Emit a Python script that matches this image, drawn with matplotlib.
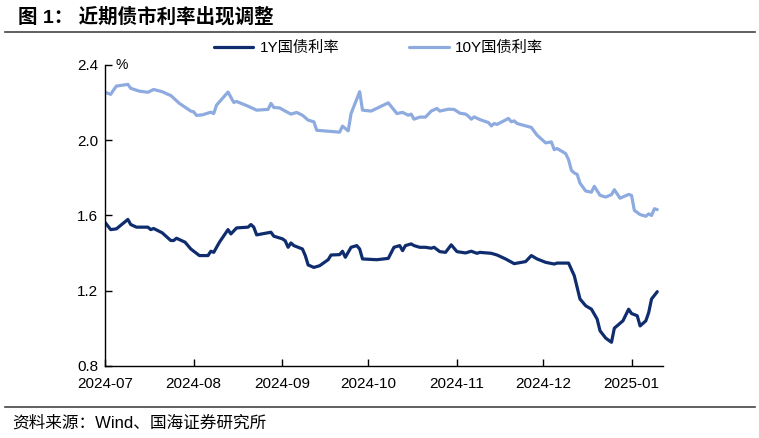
import matplotlib
matplotlib.use("Agg")
import matplotlib.pyplot as plt
import matplotlib.dates as mdates
import pandas as pd

plt.rcParams['font.family'] = ['Liberation Sans', 'Noto Sans CJK SC', 'DejaVu Sans']

# 10Y government bond yield (%)
dates_10y = ['2024-07-01', '2024-07-03', '2024-07-04', '2024-07-05', '2024-07-09', '2024-07-10',
             '2024-07-13', '2024-07-16', '2024-07-18', '2024-07-21', '2024-07-23', '2024-07-24',
             '2024-07-27', '2024-07-31', '2024-08-01', '2024-08-02', '2024-08-04', '2024-08-07',
             '2024-08-08', '2024-08-09', '2024-08-13', '2024-08-15', '2024-08-16', '2024-08-20',
             '2024-08-23', '2024-08-27', '2024-08-28', '2024-08-29', '2024-08-31', '2024-09-02',
             '2024-09-04', '2024-09-06', '2024-09-08', '2024-09-10', '2024-09-12', '2024-09-13',
             '2024-09-17', '2024-09-21', '2024-09-22', '2024-09-24', '2024-09-25', '2024-09-28',
             '2024-09-29', '2024-10-02', '2024-10-08', '2024-10-11', '2024-10-13', '2024-10-15',
             '2024-10-16', '2024-10-17', '2024-10-19', '2024-10-21', '2024-10-23', '2024-10-25',
             '2024-10-26', '2024-10-29', '2024-10-31', '2024-11-02', '2024-11-04', '2024-11-05',
             '2024-11-06', '2024-11-07', '2024-11-09', '2024-11-12', '2024-11-13', '2024-11-14',
             '2024-11-15', '2024-11-19', '2024-11-20', '2024-11-21', '2024-11-22', '2024-11-27',
             '2024-11-29', '2024-12-02', '2024-12-04', '2024-12-05', '2024-12-06', '2024-12-09',
             '2024-12-10', '2024-12-11', '2024-12-12', '2024-12-13', '2024-12-14', '2024-12-16',
             '2024-12-18', '2024-12-19', '2024-12-21', '2024-12-23', '2024-12-25', '2024-12-26',
             '2024-12-28', '2024-12-31', '2025-01-01', '2025-01-02', '2025-01-04', '2025-01-06',
             '2025-01-07', '2025-01-08', '2025-01-09', '2025-01-10']
yield_10y = [2.255, 2.244, 2.267, 2.288, 2.297, 2.276,
             2.261, 2.255, 2.270, 2.258, 2.244, 2.238,
             2.196, 2.155, 2.151, 2.132, 2.135, 2.149,
             2.142, 2.187, 2.256, 2.201, 2.206, 2.181,
             2.160, 2.164, 2.196, 2.174, 2.172, 2.155,
             2.139, 2.148, 2.133, 2.107, 2.098, 2.053,
             2.048, 2.043, 2.075, 2.050, 2.142, 2.258,
             2.160, 2.155, 2.199, 2.142, 2.148, 2.133,
             2.139, 2.112, 2.123, 2.123, 2.155, 2.169,
             2.155, 2.165, 2.164, 2.144, 2.139, 2.128,
             2.112, 2.124, 2.110, 2.094, 2.076, 2.089,
             2.084, 2.116, 2.098, 2.103, 2.089, 2.068,
             2.027, 1.986, 1.991, 1.950, 1.956, 1.929,
             1.897, 1.840, 1.826, 1.819, 1.772, 1.730,
             1.724, 1.755, 1.707, 1.698, 1.711, 1.737,
             1.692, 1.712, 1.707, 1.627, 1.605, 1.596,
             1.609, 1.600, 1.636, 1.631]

# 1Y government bond yield (%)
dates_1y = ['2024-07-01', '2024-07-03', '2024-07-05', '2024-07-09', '2024-07-10', '2024-07-12',
            '2024-07-16', '2024-07-17', '2024-07-18', '2024-07-21', '2024-07-24', '2024-07-25',
            '2024-07-26', '2024-07-29', '2024-07-31', '2024-08-03', '2024-08-06', '2024-08-07',
            '2024-08-08', '2024-08-10', '2024-08-13', '2024-08-14', '2024-08-16', '2024-08-20',
            '2024-08-21', '2024-08-22', '2024-08-23', '2024-08-28', '2024-08-29', '2024-09-01',
            '2024-09-02', '2024-09-03', '2024-09-04', '2024-09-05', '2024-09-08', '2024-09-09',
            '2024-09-10', '2024-09-12', '2024-09-14', '2024-09-17', '2024-09-18', '2024-09-21',
            '2024-09-22', '2024-09-23', '2024-09-25', '2024-09-27', '2024-09-28', '2024-09-29',
            '2024-10-04', '2024-10-08', '2024-10-10', '2024-10-12', '2024-10-13', '2024-10-14',
            '2024-10-16', '2024-10-17', '2024-10-19', '2024-10-21', '2024-10-23', '2024-10-24',
            '2024-10-26', '2024-10-28', '2024-10-30', '2024-11-01', '2024-11-04', '2024-11-06',
            '2024-11-08', '2024-11-09', '2024-11-13', '2024-11-15', '2024-11-18', '2024-11-21',
            '2024-11-25', '2024-11-27', '2024-11-29', '2024-12-02', '2024-12-05', '2024-12-06',
            '2024-12-10', '2024-12-12', '2024-12-13', '2024-12-14', '2024-12-16', '2024-12-18',
            '2024-12-20', '2024-12-21', '2024-12-23', '2024-12-25', '2024-12-26', '2024-12-29',
            '2024-12-31', '2025-01-01', '2025-01-03', '2025-01-04', '2025-01-06', '2025-01-07',
            '2025-01-08', '2025-01-10']
yield_1y = [1.564, 1.525, 1.529, 1.579, 1.552, 1.538,
            1.538, 1.525, 1.531, 1.508, 1.467, 1.467,
            1.479, 1.458, 1.422, 1.387, 1.387, 1.410,
            1.404, 1.458, 1.525, 1.502, 1.534, 1.538,
            1.552, 1.538, 1.497, 1.511, 1.490, 1.476,
            1.465, 1.431, 1.454, 1.440, 1.422, 1.387,
            1.337, 1.324, 1.333, 1.365, 1.390, 1.392,
            1.410, 1.378, 1.431, 1.440, 1.422, 1.369,
            1.365, 1.372, 1.431, 1.440, 1.413, 1.440,
            1.449, 1.440, 1.431, 1.431, 1.426, 1.431,
            1.408, 1.404, 1.444, 1.408, 1.401, 1.410,
            1.399, 1.404, 1.399, 1.390, 1.369, 1.344,
            1.355, 1.387, 1.369, 1.351, 1.342, 1.347,
            1.347, 1.280, 1.218, 1.156, 1.120, 1.102,
            1.049, 0.987, 0.948, 0.926, 1.001, 1.040,
            1.102, 1.079, 1.067, 1.013, 1.040, 1.084,
            1.156, 1.195]

labels = ['1Y国债利率', '10Y国债利率']
y_ticks = [0.8, 1.2, 1.6, 2.0, 2.4]

c_1y = '#0f2d6e'
c_10y = '#8eabe0'

fig = plt.figure(figsize=(7.59, 4.38), dpi=100)
ax = fig.add_axes([0.1383, 0.1644, 0.7352, 0.6872])

ax.plot(pd.to_datetime(dates_1y), yield_1y, color=c_1y, lw=2.3, label=labels[0],
        solid_joinstyle='round', solid_capstyle='round')
ax.plot(pd.to_datetime(dates_10y), yield_10y, color=c_10y, lw=2.3, label=labels[1],
        solid_joinstyle='round', solid_capstyle='round')

ax.set_ylim(0.8, 2.4)
ax.set_yticks(y_ticks)
ax.set_yticklabels([f'{v:.1f}' for v in y_ticks])
ax.set_xlim(pd.Timestamp('2024-07-01'), pd.Timestamp('2025-01-12'))
ax.xaxis.set_major_locator(mdates.MonthLocator())
ax.xaxis.set_major_formatter(mdates.DateFormatter('%Y-%m'))

for s in ['top', 'right']:
    ax.spines[s].set_visible(False)
for s in ['left', 'bottom']:
    ax.spines[s].set_linewidth(1.0)
ax.tick_params(axis='both', direction='in', length=5, width=1.0, labelsize=11, colors='black')
ax.tick_params(axis='x', pad=8)
ax.tick_params(axis='y', pad=5)

ax.text(0.018, 1.0, '%', transform=ax.transAxes, fontsize=10, va='center', ha='left')

ax.legend(loc='center', bbox_to_anchor=(0.49, 1.056), ncol=2, frameon=False,
          fontsize=11, handlelength=2.6, columnspacing=4.6, handletextpad=0.4,
          borderpad=0)

fig.text(0.024, 0.962, '图 1： 近期债市利率出现调整', fontsize=14, fontweight='bold',
         va='center', ha='left', family=['Liberation Sans', 'Noto Sans CJK SC'])
fig.add_artist(plt.Line2D([0.007, 0.995], [0.927, 0.927], color='#444444', lw=1.2))
fig.add_artist(plt.Line2D([0.007, 0.995], [0.071, 0.071], color='#444444', lw=1.2))
fig.text(0.016, 0.034, '资料来源：Wind、国海证券研究所', fontsize=12, va='center', ha='left')

fig.savefig('out.png', dpi=100)
